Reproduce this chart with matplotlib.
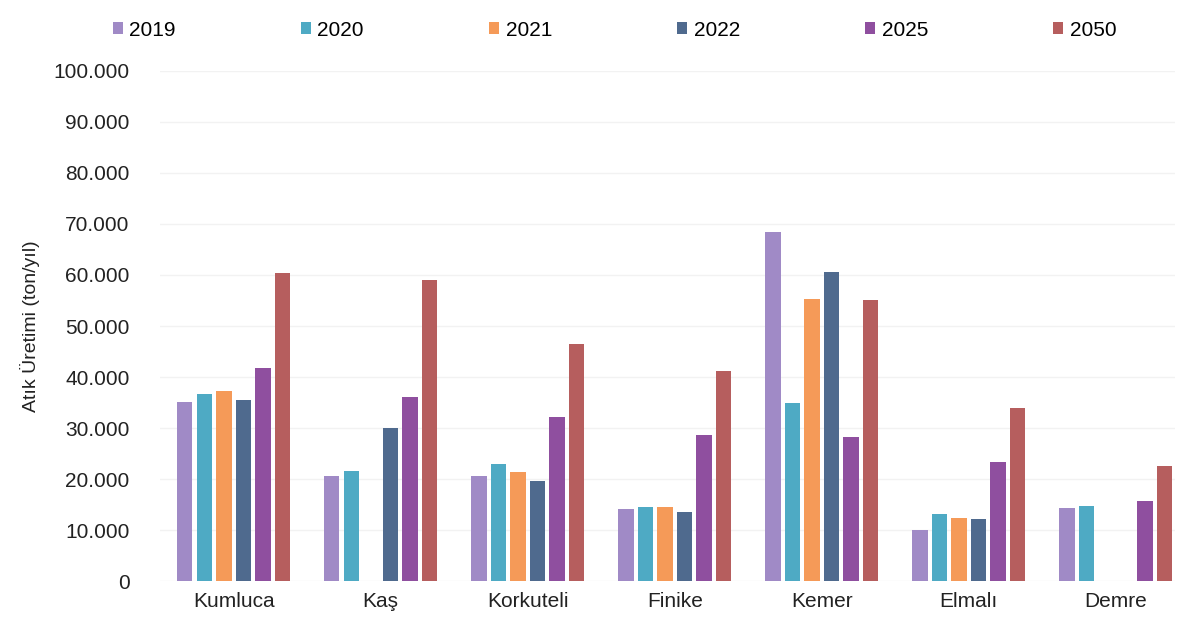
import numpy as np
import matplotlib.pyplot as plt
from matplotlib.ticker import FuncFormatter

plt.rcParams['font.family'] = ['Liberation Sans', 'DejaVu Sans']

# Veriler (ton/yıl)
ilceler = ['Kumluca', 'Kaş', 'Korkuteli', 'Finike', 'Kemer', 'Elmalı', 'Demre']
yillar = ['2019', '2020', '2021', '2022', '2025', '2050']
d2019 = [35100, 20600, 20600, 14200, 68500, 10000, 14400]
d2020 = [36700, 21600, 22900, 14600, 35000, 13100, 14700]
d2021 = [37300, np.nan, 21400, 14600, 55300, 12400, np.nan]
d2022 = [35500, 30000, 19600, 13600, 60500, 12200, np.nan]
d2025 = [41800, 36100, 32200, 28600, 28200, 23400, 15700]
d2050 = [60400, 59000, 46500, 41200, 55100, 34000, 22600]
seriler = [d2019, d2020, d2021, d2022, d2025, d2050]
renkler = ['#a08ac6', '#4eaac4', '#f59a58', '#4f6a8e', '#8f4f9f', '#b65e5e']

fig = plt.figure(figsize=(11.77, 6.38), dpi=100)
ax = fig.add_axes([0.136, 0.089, 0.862, 0.8])

x = np.arange(len(ilceler))
adim = 0.133
genislik = 0.105
for i, (seri, renk, yil) in enumerate(zip(seriler, renkler, yillar)):
    ax.bar(x + (i - 2.5) * adim, seri, width=genislik, color=renk, label=yil, zorder=3)

ax.set_ylim(0, 100000)
ax.set_xlim(-0.5, 6.4)
ax.set_yticks(np.arange(0, 100001, 10000))
ax.yaxis.set_major_formatter(FuncFormatter(lambda v, p: f'{int(v):,}'.replace(',', '.')))
ax.set_xticks(x)
ax.set_xticklabels(ilceler)
ax.tick_params(axis='both', length=0, labelsize=15, colors='#222222')
ax.tick_params(axis='y', pad=22)
ax.tick_params(axis='x', pad=8)
ax.grid(axis='y', color='#f2f2f2', linewidth=1, zorder=0)
for s in ax.spines.values():
    s.set_visible(False)
ax.set_ylabel('Atık Üretimi (ton/yıl)', fontsize=14, color='#222222', labelpad=10)

ax.legend(loc='lower left', bbox_to_anchor=(-0.055, 1.045), ncol=6, frameon=False,
          fontsize=15, handlelength=0.5, handleheight=0.5, handletextpad=0.3,
          columnspacing=6.0, borderaxespad=0)

fig.savefig('out.png', dpi=100)
